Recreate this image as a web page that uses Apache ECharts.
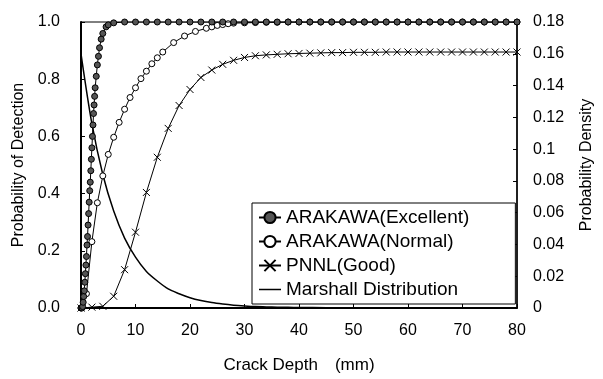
<!DOCTYPE html>
<html><head><meta charset="utf-8">
<script src="https://cdn.jsdelivr.net/npm/echarts@6/dist/echarts.min.js"></script>
<style>html,body{margin:0;padding:0;background:#fff}#c{width:603px;height:379px}</style>
</head><body><div id="c"></div>
<script>
// Crack depth (mm) / POD values
const excellentX = [0,0.2,0.3,0.4,0.5,0.6,0.7,0.8,0.9,1.0,1.1,1.2,1.3,1.4,1.5,1.6,1.7,1.8,1.9,2.0,2.1,2.2,2.3,2.4,2.5,2.6,2.8,3.0,3.2,3.4,3.7,4.0,4.6,5.0,6.0,8,10,12,14,16,18,20,22,24,26,28,30,32,34,36,38,40,42,44,46,48,50,52,54,56,58,60,62,64,66,68,70,72,74,76,78,80];
const excellentY = [0,0,0.005,0.02,0.04,0.06,0.09,0.12,0.15,0.18,0.22,0.25,0.29,0.33,0.37,0.41,0.44,0.48,0.52,0.56,0.60,0.64,0.68,0.71,0.74,0.77,0.81,0.85,0.88,0.91,0.94,0.96,0.983,0.99,0.997,1,1,1,1,1,1,1,1,1,1,1,1,1,1,1,1,1,1,1,1,1,1,1,1,1,1,1,1,1,1,1,1,1,1,1,1,1];
const normalX = [0,1,2,3,4,5,6,7,8,9,10,11,12,13,14,15,17,19,21,23,24,25,26,27,28,30,32,34,36,38,40,42,44,46,48,50,52,54,56,58,60,62,64,66,68,70,72,74,76,78,80];
const normalY = [0,0.05,0.232,0.368,0.462,0.537,0.597,0.649,0.695,0.736,0.770,0.802,0.828,0.854,0.875,0.895,0.928,0.951,0.967,0.978,0.983,0.988,0.991,0.994,0.996,0.997,0.998,0.999,0.999,1,1,1,1,1,1,1,1,1,1,1,1,1,1,1,1,1,1,1,1,1,1];
const pnnlX = [0,2,4,6,8,10,12,14,16,18,20,22,24,26,28,30,32,34,36,38,40,42,44,46,48,50,52,54,56,58,60,62,64,66,68,70,72,74,76,78,80];
const pnnlY = [0,0.003,0.006,0.041,0.134,0.265,0.404,0.527,0.628,0.708,0.764,0.806,0.832,0.852,0.866,0.876,0.882,0.885,0.887,0.889,0.890,0.891,0.892,0.893,0.893,0.894,0.894,0.894,0.895,0.895,0.895,0.895,0.895,0.895,0.895,0.895,0.895,0.895,0.895,0.895,0.895];
const marshallX = [0,2,4,6,8,10,12,14,16,18,20,22,24,26,28,30,32,34,36,38,40,45,50,55,60,65,70,75,80];
const marshallY = [0.160,0.116,0.084,0.061,0.044,0.032,0.023,0.017,0.012,0.009,0.0065,0.0047,0.0034,0.0025,0.0018,0.0013,0.0009,0.0007,0.0005,0.0004,0.0003,0.0002,0.0001,0.0001,0,0,0,0,0];
const seriesNames = ['ARAKAWA(Excellent)','ARAKAWA(Normal)','PNNL(Good)','Marshall Distribution'];
const xTitle = 'Crack Depth\u3000(mm)';
const yLeftTitle = 'Probability of Detection';
const yRightTitle = 'Probability Density';

const zip = (xs, ys) => xs.map((x, i) => [x, ys[i]]);
const FONT = 'Liberation Sans';
const cross = 'path://M0,0L10,10M10,0L0,10';

const chart = echarts.init(document.getElementById('c'), null, {renderer: 'canvas'});
chart.setOption({
  animation: false,
  backgroundColor: '#fff',
  textStyle: {fontFamily: FONT, color: '#000'},
  grid: {left: 81, right: 76, top: 22, bottom: 63, show: true, borderColor: '#000', borderWidth: 1},
  legend: {
    orient: 'vertical', left: 252, top: 203,
    backgroundColor: '#fff', borderColor: '#000', borderWidth: 1,
    padding: [5, 46, 5, 6], itemGap: 5, itemWidth: 22, itemHeight: 14,
    textStyle: {fontFamily: FONT, fontSize: 19, color: '#000'},
    data: [seriesNames[0], seriesNames[1], seriesNames[2],
      {name: seriesNames[3], icon: 'path://M0,0L22,0L22,1.5L0,1.5Z',
       itemStyle: {color: '#000', borderWidth: 0}}]
  },
  xAxis: {
    type: 'value', min: 0, max: 80, interval: 10,
    name: xTitle, nameLocation: 'middle', nameGap: 49,
    nameTextStyle: {fontFamily: FONT, fontSize: 17, color: '#000'},
    axisLine: {lineStyle: {color: '#000', width: 2}},
    axisTick: {inside: true, length: 4, lineStyle: {color: '#000'}},
    axisLabel: {fontFamily: FONT, fontSize: 16, color: '#000', margin: 15},
    splitLine: {show: false}
  },
  yAxis: [{
    type: 'value', min: 0, max: 1, interval: 0.2,
    name: yLeftTitle, nameLocation: 'middle', nameGap: 51, nameRotate: 90,
    nameTextStyle: {fontFamily: FONT, fontSize: 16, color: '#000'},
    axisLine: {show: true, lineStyle: {color: '#000', width: 2}},
    axisTick: {show: true, inside: true, length: 4, lineStyle: {color: '#000'}},
    axisLabel: {fontFamily: FONT, fontSize: 16, color: '#000', margin: 21, formatter: v => v.toFixed(1)},
    splitLine: {show: false}
  }, {
    type: 'value', min: 0, max: 0.18, interval: 0.02, position: 'right',
    name: yRightTitle, nameLocation: 'middle', nameGap: 62, nameRotate: 90,
    nameTextStyle: {fontFamily: FONT, fontSize: 16, color: '#000'},
    axisLine: {show: true, lineStyle: {color: '#000', width: 1.5}},
    axisTick: {show: true, inside: true, length: 4, lineStyle: {color: '#000'}},
    axisLabel: {fontFamily: FONT, fontSize: 16, color: '#000', margin: 16, formatter: v => String(+v.toFixed(2))},
    splitLine: {show: false}
  }],
  series: [{
    name: seriesNames[3], type: 'line', yAxisIndex: 1, data: zip(marshallX, marshallY),
    showSymbol: false, symbol: 'none', smooth: 0.3, z: 2,
    lineStyle: {color: '#000', width: 1.5}, itemStyle: {color: '#000'}
  }, {
    name: seriesNames[2], type: 'line', data: zip(pnnlX, pnnlY),
    symbol: cross, symbolSize: 7, z: 3,
    lineStyle: {color: '#000', width: 1},
    itemStyle: {color: 'none', borderColor: '#000', borderWidth: 1}
  }, {
    name: seriesNames[1], type: 'line', data: zip(normalX, normalY),
    symbol: 'circle', symbolSize: 6, z: 4,
    lineStyle: {color: '#000', width: 1},
    itemStyle: {color: '#fff', borderColor: '#000', borderWidth: 1}
  }, {
    name: seriesNames[0], type: 'line', data: zip(excellentX, excellentY),
    symbol: 'circle', symbolSize: 6, z: 5,
    lineStyle: {color: '#000', width: 1},
    itemStyle: {color: '#555', borderColor: '#000', borderWidth: 1}
  }]
});
</script></body></html>
